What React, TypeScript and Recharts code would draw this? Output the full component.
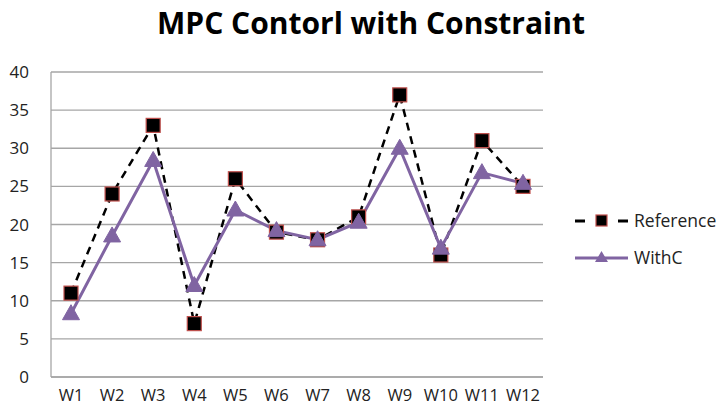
import React from "react";
import { LineChart, Line, XAxis, YAxis, CartesianGrid } from "recharts";

const categories = ["W1", "W2", "W3", "W4", "W5", "W6", "W7", "W8", "W9", "W10", "W11", "W12"];
const referenceValues = [11, 24, 33, 7, 26, 19, 18, 21, 37, 16, 31, 25];
const withCValues = [8.3, 18.5, 28.4, 12, 21.9, 19.2, 18, 20.3, 30, 16.9, 26.8, 25.4];
const yTicks = [0, 5, 10, 15, 20, 25, 30, 35, 40];

const data = categories.map((c, i) => ({ name: c, Reference: referenceValues[i], WithC: withCValues[i] }));

const FONT = "'Open Sans', sans-serif";
const PURPLE = "#8064a2";
const RED = "#c0504d";

const SquareDot = (props: any) => {
  const { cx, cy, index } = props;
  if (cx == null || cy == null) return null;
  return <rect key={`s${index}`} x={cx - 7} y={cy - 7} width={14} height={14} fill="#000" stroke={RED} strokeWidth={1.2} />;
};

const TriDot = (props: any) => {
  const { cx, cy, index } = props;
  if (cx == null || cy == null) return null;
  return <polygon key={`t${index}`} points={`${cx},${cy - 9} ${cx + 8.5},${cy + 6} ${cx - 8.5},${cy + 6}`} fill={PURPLE} stroke={PURPLE} strokeWidth={1} />;
};

const LegendBox = () => (
  <svg width={150} height={70} style={{ position: "absolute", left: 572, top: 205 }}>
    <line x1={3} y1={16} x2={13} y2={16} stroke="#000" strokeWidth={3} />
    <rect x={24} y={10} width={11} height={11} fill="#000" stroke={RED} strokeWidth={1.2} />
    <line x1={46} y1={16} x2={56} y2={16} stroke="#000" strokeWidth={3} />
    <text x={62} y={22} fontFamily={FONT} fontSize={17.5} fill="#222">Reference</text>
    <line x1={3} y1={53} x2={56} y2={53} stroke={PURPLE} strokeWidth={3} />
    <polygon points="29.5,46 36,57 23,57" fill={PURPLE} />
    <text x={62} y={59} fontFamily={FONT} fontSize={17.5} fill="#222">WithC</text>
  </svg>
);

export default function App() {
  return (
    <div style={{ position: "absolute", left: 0, top: 0, width: 721, height: 416, background: "#fff" }}>
      <div style={{ position: "absolute", left: 0, top: 2, width: 742, textAlign: "center", fontFamily: FONT, fontWeight: 700, fontSize: 30, color: "#000" }}>
        MPC Contorl with Constraint
      </div>
      <LineChart width={721} height={416} data={data} margin={{ top: 72, right: 178, bottom: 0, left: 0 }}>
        <CartesianGrid vertical={false} stroke="#a6a6a6" strokeWidth={1.3} />
        <XAxis
          dataKey="name"
          height={39}
          padding={{ left: 20, right: 20 }}
          axisLine={{ stroke: "#a6a6a6", strokeWidth: 1.3 }}
          tickLine={false}
          tickMargin={6}
          interval={0}
          tick={{ fontFamily: FONT, fontSize: 16.5, fill: "#222" }}
        />
        <YAxis
          width={51}
          domain={[0, 40]}
          ticks={yTicks}
          axisLine={{ stroke: "#a6a6a6", strokeWidth: 1.3 }}
          tickLine={false}
          tickMargin={16}
          tick={{ fontFamily: FONT, fontSize: 17, fill: "#222" }}
        />
        <Line type="linear" dataKey="Reference" stroke="#000" strokeWidth={2.5} strokeDasharray="8 6" dot={<SquareDot />} isAnimationActive={false} />
        <Line type="linear" dataKey="WithC" stroke={PURPLE} strokeWidth={3} dot={<TriDot />} isAnimationActive={false} />
      </LineChart>
      <LegendBox />
    </div>
  );
}
